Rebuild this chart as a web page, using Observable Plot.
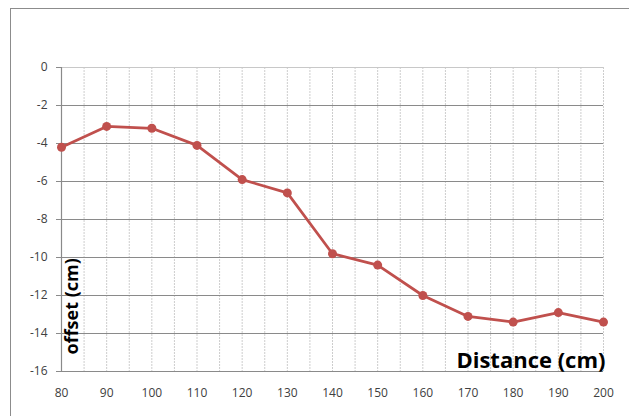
<!DOCTYPE html>
<html>
<head>
<meta charset="utf-8">
<script src="https://cdn.jsdelivr.net/npm/d3@7"></script>
<script src="https://cdn.jsdelivr.net/npm/@observablehq/plot@0.6"></script>
<style>
  html, body { margin: 0; padding: 0; background: #fff; overflow: hidden; }
  #wrap { position: relative; width: 629px; height: 416px; }
  #border { position: absolute; left: 10px; top: 8px; width: 640px; height: 430px; border: 1px solid #8c8c8c; box-sizing: border-box; pointer-events: none; }
  svg { display: block; }
</style>
</head>
<body>
<div id="wrap"><div id="border"></div></div>
<script>
const distance = [80, 90, 100, 110, 120, 130, 140, 150, 160, 170, 180, 190, 200];
const offset = [-4.2, -3.1, -3.2, -4.1, -5.9, -6.6, -9.8, -10.4, -12.0, -13.1, -13.4, -12.9, -13.4];
const xTicks = [80, 90, 100, 110, 120, 130, 140, 150, 160, 170, 180, 190, 200];
const xMinor = [85, 90, 95, 100, 105, 110, 115, 120, 125, 130, 135, 140, 145, 150, 155, 160, 165, 170, 175, 180, 185, 190, 195, 200];
const yTicks = [0, -2, -4, -6, -8, -10, -12, -14, -16];
const xLabel = "Distance (cm)";
const yLabel = "offset (cm)";

const data = distance.map((d, i) => ({distance: d, offset: offset[i]}));
const font = "'Open Sans', 'Liberation Sans', sans-serif";

const chart = Plot.plot({
  width: 629,
  height: 416,
  marginLeft: 61,
  marginRight: 26,
  marginTop: 67,
  marginBottom: 45,
  style: {fontFamily: font, background: "transparent"},
  x: {domain: [80, 200], label: null},
  y: {domain: [-16, 0], label: null},
  marks: [
    Plot.ruleX(xMinor, {stroke: "#cdcdcd", strokeWidth: 1, strokeDasharray: "2,1"}),
    Plot.ruleY(yTicks.filter(d => d !== 0), {stroke: "#8a8a8a", strokeWidth: 1.2}),
    Plot.ruleY([0], {stroke: "#c8c8c8", strokeWidth: 1}),
    Plot.ruleX([80], {stroke: "#8a8a8a", strokeWidth: 1.2}),
    Plot.axisY({ticks: yTicks, tickSize: 5, tickPadding: 9, tickFormat: d => String(d), fontSize: 12, color: "#404040", stroke: "#8a8a8a"}),
    Plot.axisX({ticks: xTicks, tickSize: 0, tickPadding: 17, tickFormat: d => String(d), fontSize: 12, color: "#404040"}),
    Plot.line(data, {x: "distance", y: "offset", stroke: "#C0504D", strokeWidth: 2.75}),
    Plot.dot(data, {x: "distance", y: "offset", r: 4.5, fill: "#C0504D", stroke: null}),
    Plot.text([xLabel], {frameAnchor: "bottom-right", text: d => d, dx: 2, dy: -4, fontSize: 22, fontWeight: "bold", fill: "#000", textAnchor: "end", lineAnchor: "bottom"}),
    Plot.text([yLabel], {frameAnchor: "bottom-left", text: d => d, rotate: -90, dx: 11, dy: -17, fontSize: 18, fontWeight: "bold", fill: "#000", textAnchor: "start", lineAnchor: "middle"})
  ]
});
document.getElementById("wrap").appendChild(chart);
</script>
</body>
</html>
